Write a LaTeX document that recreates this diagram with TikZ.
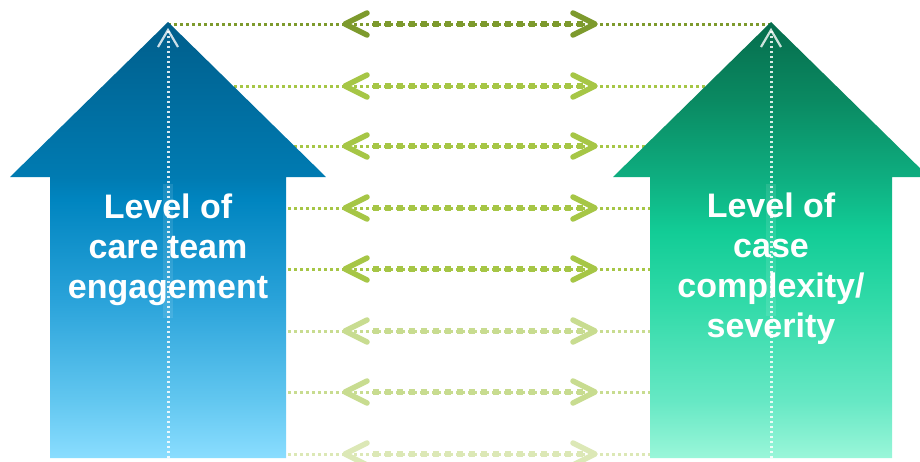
\documentclass[tikz,border=0pt]{standalone}
\usepackage{fontspec}
\setmainfont{Liberation Sans}
\usetikzlibrary{calc}

\definecolor{rowdark}{HTML}{7D9A2D}
\definecolor{rowmid}{HTML}{A6C646}
\definecolor{rowlight}{HTML}{C8DC90}
\definecolor{rowpale}{HTML}{DCE8B6}
% blue arrow, bottom to top
\definecolor{blueA}{HTML}{8ADDFF}
\definecolor{blueB}{HTML}{62C7F0}
\definecolor{blueC}{HTML}{2AA3DA}
\definecolor{blueD}{HTML}{0085C0}
\definecolor{blueE}{HTML}{007BB2}
\definecolor{blueF}{HTML}{005E8B}
% green arrow, bottom to top
\definecolor{greenA}{HTML}{9AF6D9}
\definecolor{greenB}{HTML}{66E8C4}
\definecolor{greenC}{HTML}{30DAA8}
\definecolor{greenD}{HTML}{12CC96}
\definecolor{greenE}{HTML}{0EAE80}
\definecolor{greenF}{HTML}{0A8A62}
\definecolor{greenG}{HTML}{066D4D}

\pgfdeclareverticalshading{bluearrow}{100bp}{color(0bp)=(blueA); color(25bp)=(blueA);
	color(31.6bp)=(blueB); color(43bp)=(blueC); color(54.6bp)=(blueD); color(57.2bp)=(blueE);
	color(75bp)=(blueF); color(100bp)=(blueF)}
\pgfdeclareverticalshading{greenarrow}{100bp}{color(0bp)=(greenA); color(25bp)=(greenA);
	color(31.6bp)=(greenB); color(43bp)=(greenC); color(51bp)=(greenD); color(57.2bp)=(greenE);
	color(66bp)=(greenF); color(75bp)=(greenG); color(100bp)=(greenG)}

\begin{document}
\begin{tikzpicture}[x=1pt, y=-1pt,
		thin dots/.style={line width=3pt, dash pattern=on 3pt off 3pt},
		fat dots/.style={line width=6pt, dash pattern=on 5.5pt off 6.5pt},
		chev/.style={line width=5.5pt, line cap=round, line join=round},
		white dots/.style={white, opacity=.85, line width=3pt, dash pattern=on 2.5pt off 2.5pt},
		bigtext/.style={text=white, font=\bfseries\fontsize{34}{40}\selectfont, align=center}]
	\useasboundingbox (0,0) rectangle (920,461);
	\clip (0,0) rectangle (920,461);
	% rows of double arrows
	\foreach \y/\c [count=\i] in {24/rowdark, 86/rowmid, 146/rowmid, 208/rowmid, 269/rowmid, 331/rowlight, 392/rowlight, 454/rowpale}{
		\coordinate (a\i) at (168,\y);
		\coordinate (b\i) at (771,\y);
		\coordinate (l\i) at (345,\y);
		\coordinate (r\i) at (595,\y);
		\draw[\c, thin dots] (a\i) -- (b\i);
		\draw[\c, fat dots] ($(l\i)+(28,0)$) -- ($(r\i)-(12,0)$);
		\draw[\c, chev] ($(l\i)+(22,-11)$) -- (l\i) -- ($(l\i)+(22,11)$);
		\draw[\c, chev] ($(r\i)+(-22,-11)$) -- (r\i) -- ($(r\i)+(-22,11)$);
	}
	% big arrows
	\shade[shading=bluearrow]
		(168,22) coordinate (tipL) -- (326,177) -- (286,177) -- (286,458) -- (50,458) -- (50,177) -- (10,177) -- cycle;
	\shade[shading=greenarrow]
		(771,22) coordinate (tipR) -- (929,177) -- (892,177) -- (892,458) -- (650,458) -- (650,177) -- (613,177) -- cycle;
	\fill[white, opacity=.1] (163,184) rectangle (173,318);
	\fill[white, opacity=.1] (766,184) rectangle (776,316);
	% dotted axes
	\coordinate (footL) at (168,458);
	\coordinate (topL) at (168,30);
	\coordinate (footR) at (771,458);
	\coordinate (topR) at (771,30);
	\draw[white dots] (footL) -- (topL);
	\draw[white dots] (footR) -- (topR);
	\draw[white, opacity=.8, line width=2.2pt] ($(topL)+(-10,17)$) -- (topL) -- ($(topL)+(10,17)$);
	\draw[white, opacity=.8, line width=2.2pt] ($(topR)+(-10,17)$) -- (topR) -- ($(topR)+(10,17)$);
	% labels
	\node[bigtext] (engage) at (168,250) {Level of\\care team\\engagement};
	\node[bigtext] (complex) at (771,269) {Level of\\case\\complexity/\\severity};
\end{tikzpicture}
\end{document}
